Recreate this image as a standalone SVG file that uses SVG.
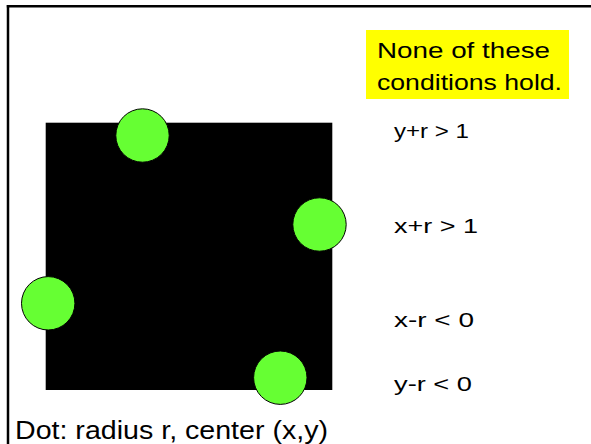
<svg xmlns="http://www.w3.org/2000/svg" width="591" height="444" viewBox="0 0 591 444">
  <style>
    .frame { stroke: #000; stroke-width: 2.5; fill: none; }
    .dot { fill: #66FF33; stroke: #000; stroke-width: 1; }
    .t { font-family: "Liberation Sans", "DejaVu Sans", sans-serif; fill: #000; }
    .title { font-size: 22px; }
    .cond { font-size: 21px; }
    .cap { font-size: 26px; }
  </style>
  <rect width="591" height="444" fill="#fff"/>
  <g id="frame">
    <line class="frame" x1="6.8" y1="6.2" x2="591" y2="6.2"/>
    <line class="frame" x1="8" y1="5" x2="8" y2="444"/>
  </g>
  <g id="note">
    <rect x="366" y="30" width="203" height="69" fill="#FFFF00"/>
    <text class="t title" x="377" y="58" textLength="173" lengthAdjust="spacingAndGlyphs">None of these</text>
    <text class="t title" x="377" y="90" textLength="185" lengthAdjust="spacingAndGlyphs">conditions hold.</text>
  </g>
  <g id="square">
    <rect x="45.7" y="122.7" width="286.6" height="267.3" fill="#000"/>
  </g>
  <g id="dots">
    <circle id="dot-top" class="dot" cx="142.5" cy="135.5" r="26.7"/>
    <circle id="dot-right" class="dot" cx="319.5" cy="224.5" r="26.7"/>
    <circle id="dot-left" class="dot" cx="48.2" cy="303.3" r="26.7"/>
    <circle id="dot-bottom" class="dot" cx="280.3" cy="377.7" r="26.7"/>
  </g>
  <g id="conditions" xml:space="preserve">
    <text class="t cond" x="394" y="138" textLength="75" lengthAdjust="spacingAndGlyphs">y+r &gt; 1</text>
    <text class="t cond" x="394" y="233" textLength="84" lengthAdjust="spacingAndGlyphs">x+r  &gt; 1</text>
    <text class="t cond" x="394" y="327" textLength="80" lengthAdjust="spacingAndGlyphs">x-r &lt; 0</text>
    <text class="t cond" x="394" y="390.5" textLength="78" lengthAdjust="spacingAndGlyphs">y-r &lt; 0</text>
  </g>
  <g id="caption">
    <text class="t cap" x="15" y="439.3" textLength="313" lengthAdjust="spacingAndGlyphs">Dot: radius r, center (x,y)</text>
  </g>
</svg>
